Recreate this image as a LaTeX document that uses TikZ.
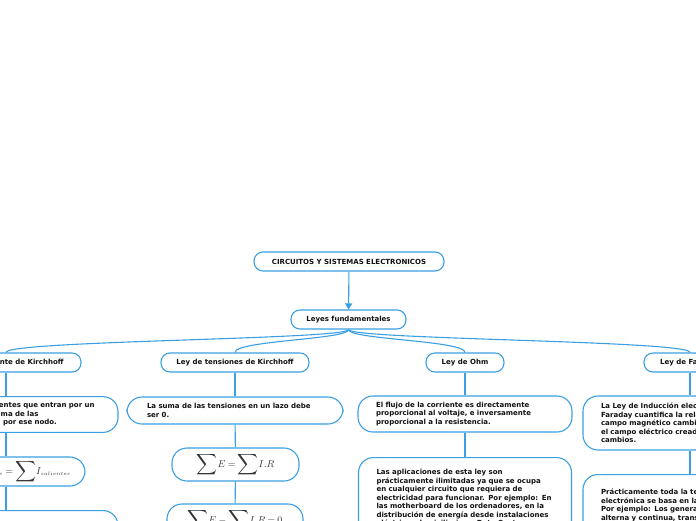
\documentclass[tikz,border=0pt]{standalone}
\usepackage{fontspec}
\usepackage{graphicx}
\setmainfont{DejaVu Sans}
\usetikzlibrary{arrows.meta}
\definecolor{lb}{HTML}{3A9FE3}
\definecolor{ft}{HTML}{111111}
\newcommand{\bsum}{\mathord{\vcenter{\hbox{\scalebox{1.45}{$\displaystyle\sum$}}}}}
\newcommand{\eqs}{\mkern-1mu=\mkern-1mu}
\begin{document}
\begin{tikzpicture}[x=1pt,y=-1pt,
 every node/.style={font=\fontsize{7}{8.5}\selectfont\bfseries, text=ft},
 lvl/.style={draw=lb, line width=1.1pt, fill=white, rounded corners=9pt, minimum height=19pt, inner sep=0pt, align=center},
 desc/.style={draw=lb, line width=1.1pt, fill=white, rounded corners=15pt, inner xsep=18pt, inner ysep=6pt, align=left, text width=#1-36pt},
 eqbox/.style={draw=lb, line width=1.1pt, fill=white, rounded corners=15pt, inner sep=0pt, font=\fontsize{10}{12}\selectfont, text=black!80},
 con/.style={draw=lb, line width=1.1pt},
]
\useasboundingbox (0,0) rectangle (696,520);
\clip (0,0) rectangle (696,520);

% top
\node[lvl, minimum width=190pt] (title) at (349,261.5) {CIRCUITOS Y SISTEMAS ELECTRONICOS};
\node[lvl, minimum width=115pt] (leyes) at (348.5,319.5) {Leyes fundamentales};
\draw[con, -{Triangle[width=7pt,length=6pt]}] (title) -- (leyes);

% level 2
\node[lvl, minimum width=150pt] (kc) at (6,362.5) {Ley de corriente de Kirchhoff};
\node[lvl, minimum width=148pt] (kt) at (235,362.5) {Ley de tensiones de Kirchhoff};
\node[lvl, minimum width=78pt] (ohm) at (465,362.5) {Ley de Ohm};
\node[lvl, minimum width=92pt] (far) at (690,362.5) {Ley de Faraday};

\foreach \c in {kc,kt,ohm,far}
  \draw[con] (leyes.south) .. controls +(0,10) and +(0,-12) .. (\c.north);

% Kirchhoff corriente column
\node[desc=216pt, minimum height=35pt] (kcd) at (10,414.5)
 {La suma de las corrientes que entran por un\\nodo es igual a la suma de las\\corrientes que salen por ese nodo.};
\node[eqbox, minimum width=154pt, minimum height=29pt] (kce) at (8,471.5)
 {$\bsum I_{\scriptscriptstyle entrantes}\eqs\bsum I_{\scriptscriptstyle salientes}$};
\node[desc=216pt, anchor=north, minimum height=40pt] (kcx) at (10,510)
 {Por ejemplo en el siguiente nudo, son};
\draw[con] (kc.south) -- (kc.south |- kcd.north);
\draw[con] (kc.south |- kcd.south) -- (kc.south |- kce.north);
\draw[con] (kc.south |- kce.south) -- (kc.south |- kcx.north);

% Kirchhoff tensiones column
\node[desc=216pt, minimum height=27pt, text width=176pt, inner xsep=20pt] (ktd) at (235,410.5)
 {La suma de las tensiones en un lazo debe\\ser 0.};
\node[eqbox, minimum width=127pt, minimum height=33pt] (kte1) at (235.5,464.5)
 {$\bsum E\eqs\bsum I.R$};
\node[eqbox, minimum width=136pt, minimum height=33pt] (kte2) at (235,520.5)
 {$\bsum E-\bsum I.R\eqs0$};
\draw[con] (kt) -- (ktd);
\draw[con] (ktd) -- (kte1);
\draw[con] (kte1) -- (kte2);

% Ohm column
\node[desc=214pt, minimum height=36pt] (ohmd) at (465,414)
 {El flujo de la corriente es directamente\\proporcional al voltaje, e inversamente\\proporcional a la resistencia.};
\node[desc=213pt, anchor=north, minimum height=80pt] (ohma) at (465,457)
 {Las aplicaciones de esta ley son\\prácticamente ilimitadas ya que se ocupa\\en cualquier circuito que requiera de\\electricidad para funcionar. Por ejemplo: En\\las motherboard de los ordenadores, en la\\distribución de energía desde instalaciones\\eléctricas domiciliarias a Data Center o};
\draw[con] (ohm) -- (ohmd);
\draw[con] (ohmd) -- (ohma);

% Faraday column
\node[desc=214pt, minimum height=54pt] (fard) at (690,423)
 {La Ley de Inducción electromagnética de\\Faraday cuantifica la relación entre un\\campo magnético cambiante en el tiempo y\\el campo eléctrico creado por estos\\cambios.};
\node[desc=214pt, anchor=north, minimum height=70pt] (fara) at (690,474)
 {Prácticamente toda la tecnología\\electrónica se basa en la ley de Faraday.\\Por ejemplo: Los generadores de corriente\\alterna y continua, transformadores,\\motores eléctricos y motores};
\draw[con] (far) -- (fard);
\draw[con] (fard) -- (fara);
\end{tikzpicture}
\end{document}
